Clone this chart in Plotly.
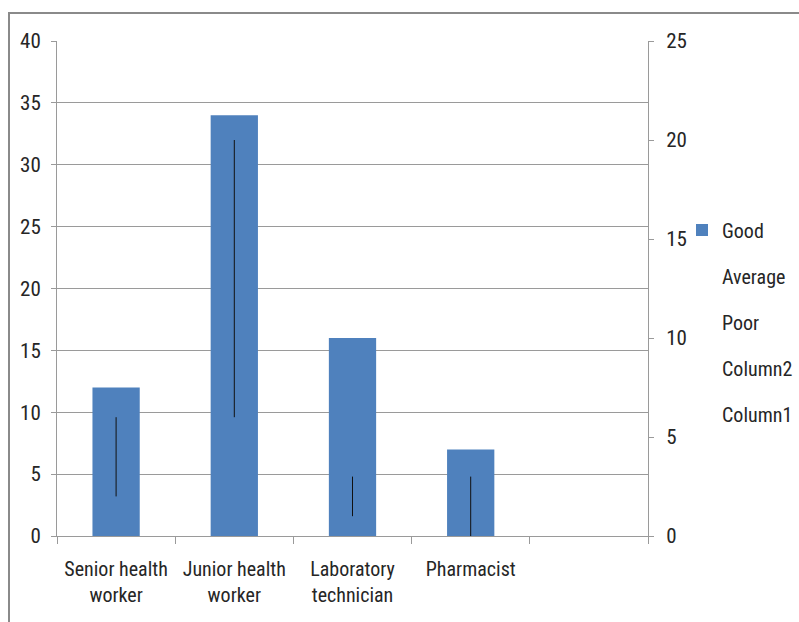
import plotly.graph_objects as go

# Staff categories (the fifth slot is an empty category, as in the workbook)
categories = ["Senior health<br>worker", "Junior health<br>worker",
              "Laboratory<br>technician", "Pharmacist", " "]

# Primary axis: Good
good = [12, 34, 16, 7, None]
# Secondary axis: Average / Poor (joined by high-low lines)
average = [6, 20, 3, 3, None]
poor = [2, 6, 1, 0, None]
# Empty helper series
column2 = [None, None, None, None, None]
column1 = [None, None, None, None, None]

left_ticks = list(range(0, 45, 5))
right_ticks = list(range(0, 30, 5))

FONT = "Liberation Sans Narrow, Arial Narrow, Roboto Condensed, sans-serif"
TXT = "#262626"
GRID = "#9a9a9a"
BLUE = "#4F81BD"

W, H = 799, 622
ML, MR, MT, MB = 57, 151, 41, 86
pw, ph = W - ML - MR, H - MT - MB

fig = go.Figure()

fig.add_trace(go.Bar(
    x=categories, y=good, name="Good", marker=dict(color=BLUE, line=dict(width=0)),
    legendgroup="g1", yaxis="y",
))
for name, vals, grp in [("Average", average, "g2"), ("Poor", poor, "g3"),
                        ("Column2", column2, "g4"), ("Column1", column1, "g5")]:
    fig.add_trace(go.Scatter(
        x=categories, y=vals, name=name, mode="lines",
        line=dict(width=0, color="rgba(0,0,0,0)"),
        legendgroup=grp, yaxis="y2",
    ))

# High-low lines between Average and Poor
hl_x, hl_y = [], []
for c, a, p in zip(categories, average, poor):
    if a is None or p is None:
        continue
    hl_x += [c, c, None]
    hl_y += [a, p, None]
fig.add_trace(go.Scatter(
    x=hl_x, y=hl_y, mode="lines", line=dict(color="#111111", width=1),
    showlegend=False, yaxis="y2", hoverinfo="skip",
))

# Outer chart frame (only top and left edges fall inside the page)
fig.add_shape(
    type="rect", xref="paper", yref="paper",
    x0=(9 - ML) / pw, x1=(W + 20 - ML) / pw,
    y0=-(H + 20 - (MT + ph)) / ph, y1=(MT + ph - 13) / ph,
    line=dict(color="#8a8a8a", width=2), fillcolor="rgba(0,0,0,0)", layer="below",
)

fig.update_layout(
    width=W, height=H,
    margin=dict(l=ML, r=MR, t=MT, b=MB, pad=0, autoexpand=False),
    paper_bgcolor="white", plot_bgcolor="white",
    font=dict(family=FONT, size=21, color=TXT),
    bargap=0.6,
    showlegend=True,
    legend=dict(
        x=(682 - ML) / pw, xanchor="left",
        y=(MT + ph - 322) / ph, yanchor="middle",
        font=dict(family=FONT, size=20, color=TXT),
        tracegroupgap=17, bgcolor="rgba(0,0,0,0)",
        itemwidth=30,
    ),
    xaxis=dict(
        type="category", categoryorder="array", categoryarray=categories,
        range=[-0.5, 4.5], tickson="boundaries", tickangle=0, automargin=False,
        showline=True, linecolor=GRID, linewidth=1,
        ticks="outside", ticklen=7, tickcolor=GRID,
        showgrid=False, zeroline=False,
        tickfont=dict(family=FONT, size=20, color=TXT),
        ticklabelstandoff=15,
    ),
    yaxis=dict(
        range=[0, 40], tickvals=left_ticks, automargin=False,
        showline=True, linecolor=GRID, linewidth=1,
        ticks="outside", ticklen=5, tickcolor=GRID,
        showgrid=True, gridcolor=GRID, gridwidth=1, zeroline=False,
        tickfont=dict(family=FONT, size=21, color=TXT),
        ticklabelstandoff=6,
    ),
    yaxis2=dict(
        range=[0, 25], tickvals=right_ticks, overlaying="y", side="right",
        automargin=False,
        showline=True, linecolor=GRID, linewidth=1,
        ticks="outside", ticklen=5, tickcolor=GRID,
        showgrid=False, zeroline=False,
        tickfont=dict(family=FONT, size=21, color=TXT),
        ticklabelstandoff=8,
    ),
)

fig.write_html("out.html")
